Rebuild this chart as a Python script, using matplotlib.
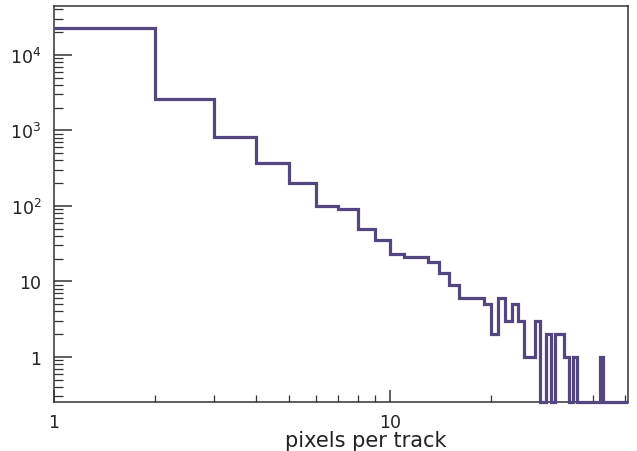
import numpy as np
import matplotlib
matplotlib.use("Agg")
import matplotlib.pyplot as plt
from matplotlib.ticker import LogLocator, FixedLocator, FixedFormatter, NullFormatter

plt.rcParams['font.family'] = ['DejaVu Sans']
plt.rcParams['mathtext.fontset'] = 'dejavusans'

# integer bins [1,2), [2,3), ... [50,51)
bin_edges = np.arange(1, 52)
counts = [23000, 2570, 826, 372, 199, 100, 90, 50, 35, 23,
          21, 21, 18, 13, 9, 6, 6, 6, 5, 2,
          6, 3, 5, 3, 1, 1, 3, 0, 2, 0,
          2, 2, 1, 0, 1, 0, 0, 0, 0, 0,
          0, 1, 0, 0, 0, 0, 0, 0, 0, 0]

y_ticks = [1, 10, 100, 1000, 10000]
y_labels = ['1', '10', r'$10^{2}$', r'$10^{3}$', r'$10^{4}$']
x_ticks = [1, 10]
x_labels = ['1', '10']

ymin, ymax = 0.25, 4.4e4
line_col = '#54467e'
axis_col = '#333333'

W, H = 637, 452
fig = plt.figure(figsize=(W / 100, H / 100), dpi=100)
ax = fig.add_axes([54 / W, (H - 403.3) / H, (628 - 54) / W, (403.3 - 7.3) / H])

# empty bins drop onto the frame bottom, like ROOT does on a log axis
vals = np.array(counts, dtype=float)
vals[vals <= 0] = ymin
ax.stairs(vals, bin_edges, baseline=None, color=line_col, lw=2.3, zorder=3,
          clip_on=False)

ax.set_xscale('log')
ax.set_yscale('log')
ax.set_xlim(1, 51)
ax.set_ylim(ymin, ymax)

ax.yaxis.set_major_locator(FixedLocator(y_ticks))
ax.yaxis.set_major_formatter(FixedFormatter(y_labels))
ax.yaxis.set_minor_locator(LogLocator(base=10, subs=np.arange(2, 10), numticks=20))
ax.yaxis.set_minor_formatter(NullFormatter())
ax.xaxis.set_major_locator(FixedLocator(x_ticks))
ax.xaxis.set_major_formatter(FixedFormatter(x_labels))
ax.xaxis.set_minor_locator(LogLocator(base=10, subs=np.arange(2, 10), numticks=20))
ax.xaxis.set_minor_formatter(NullFormatter())

ax.tick_params(axis='both', which='both', direction='in', colors=axis_col,
               top=False, right=False, labelcolor='#222222')
ax.tick_params(axis='y', which='major', length=13, width=1.1, pad=9, labelsize=12.5)
ax.tick_params(axis='y', which='minor', length=6.7, width=0.9)
ax.tick_params(axis='x', which='major', length=8.6, width=1.1, pad=8, labelsize=12.5)
ax.tick_params(axis='x', which='minor', length=4.8, width=0.9)

for s in ax.spines.values():
    s.set_color(axis_col)
    s.set_linewidth(1.1)

fig.text(366 / W, 1 - 441 / H, 'pixels per track', ha='center', va='center',
         fontsize=15, color='#222222')

fig.savefig('out.png', dpi=100)
